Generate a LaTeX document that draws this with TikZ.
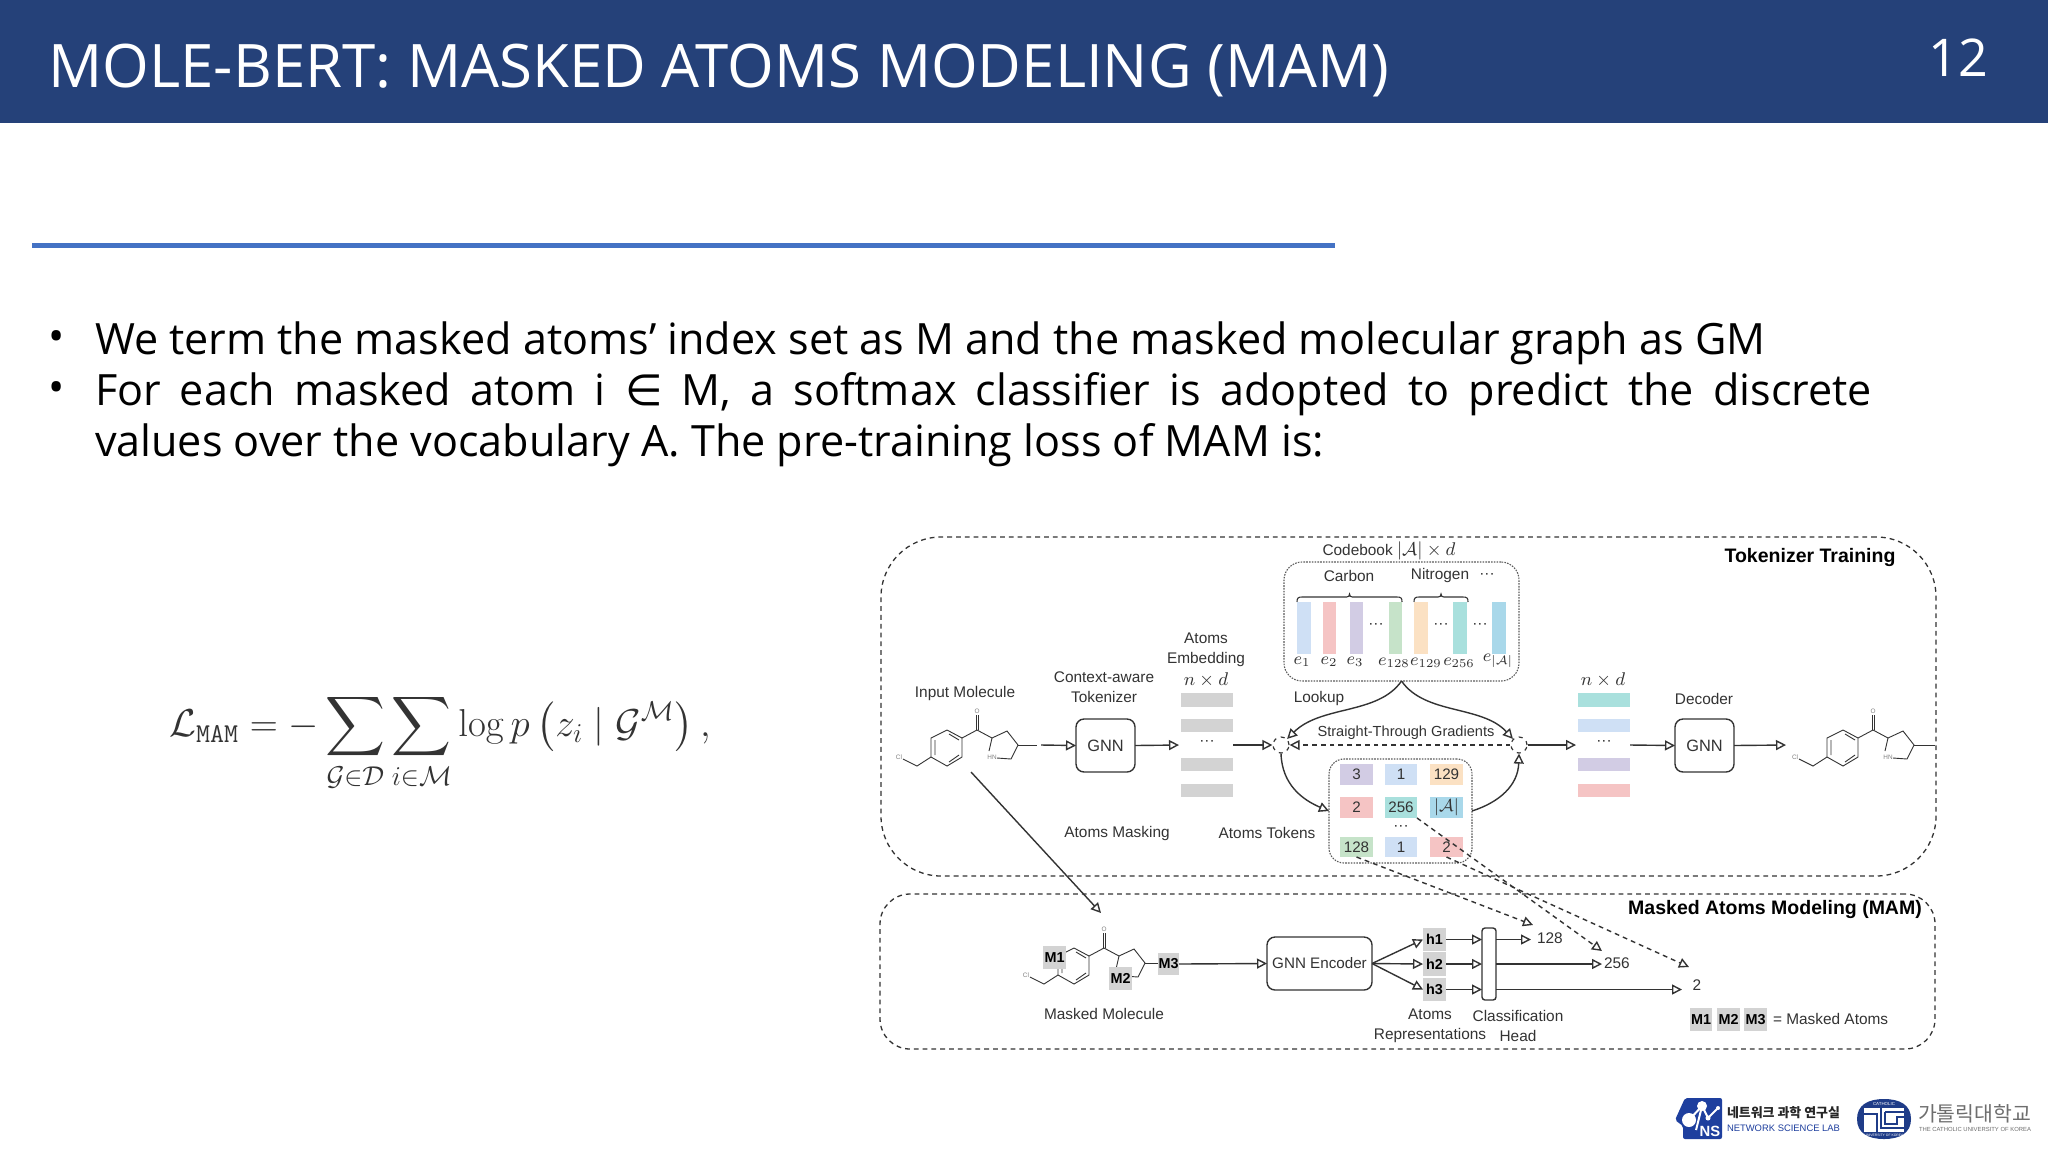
\documentclass[tikz,border=0pt]{standalone}
\usepackage{fix-cm}
\usepackage{exscale}
\usepackage{graphicx}
\usepackage[no-math]{fontspec}
\setmainfont{Liberation Sans}
\newfontfamily\slidefont{Open Sans}
\newfontfamily\symfont{DejaVu Sans}
\newfontfamily\cjk{Noto Sans CJK KR}
\usetikzlibrary{arrows.meta,calc}
\definecolor{hdr}{HTML}{254179}
\definecolor{rule}{HTML}{4472C4}
\definecolor{ink}{HTML}{333333}
\definecolor{cblue}{HTML}{CFE0F5}
\definecolor{cred}{HTML}{F5C4C4}
\definecolor{cpurple}{HTML}{D2CCE4}
\definecolor{cgreen}{HTML}{C6E3C9}
\definecolor{corange}{HTML}{FBE1C3}
\definecolor{cteal}{HTML}{A9E0DD}
\definecolor{clight}{HTML}{A9D8EA}
\definecolor{cgray}{HTML}{D3D3D3}
\definecolor{nsblue}{HTML}{1E3F9E}
\definecolor{cuk}{HTML}{1F3C88}
\definecolor{cukgray}{HTML}{6E6E6E}
\newcommand{\hdots}{···}
\tikzset{
  boxbase/.style={inner sep=0pt,outer sep=0pt,text=ink,font=\fontsize{7.6}{9}\selectfont},
  lab/.style={inner sep=0pt,outer sep=0pt,text=ink,font=\fontsize{7.7}{10}\selectfont,align=center},
  boldlab/.style={inner sep=0pt,outer sep=0pt,text=black,font=\fontsize{9.75}{11}\selectfont\bfseries},
  mlab/.style={inner sep=0pt,outer sep=0pt,text=ink,font=\fontsize{9.2}{11}\selectfont},
  elab/.style={inner sep=0pt,outer sep=0pt,text=ink,font=\fontsize{8.6}{11}\selectfont},
  small/.style={inner sep=0pt,outer sep=0pt,text=gray,font=\fontsize{3.2}{4}\selectfont},
  arr/.style={draw=ink,line width=.7pt,-{Triangle[open,fill=white,length=5pt,width=5pt]}},
  darr/.style={arr,dash pattern=on 2.4pt off 2pt},
  frame/.style={draw=ink,line width=.65pt,dash pattern=on 2.4pt off 2pt},
  dotframe/.style={draw=ink!80,line width=.55pt,dash pattern=on .8pt off .6pt},
  solid box/.style={draw=ink,line width=.7pt,rounded corners=4pt},
  bond/.style={draw=ink,line width=.45pt},
  slidetext/.style={inner sep=0pt,outer sep=0pt,text=black,font=\slidefont\fontsize{21.56}{26}\selectfont,anchor=west},
  x=.5pt,y=-.5pt}
% [options]{name}{x1}{y1}{x2}{y2}{text}
\newcommand{\bx}[7][]{\node[boxbase,minimum width={(#5-#3)*.5pt},minimum height={(#6-#4)*.5pt},#1] (#2) at ({(#3+#5)/2},{(#4+#6)/2}) {#7};}
\newcommand{\brc}[2]{\draw[bond,line width=.55pt] (#1,602) .. controls (#1,598) and ({#1+1},597) .. ({#1+5},597) -- ({(#1+#2)/2-3},597) .. controls ({(#1+#2)/2-1},597) and ({(#1+#2)/2},596) .. ({(#1+#2)/2},594) .. controls ({(#1+#2)/2},596) and ({(#1+#2)/2+1},597) .. ({(#1+#2)/2+3},597) -- ({#2-5},597) .. controls ({#2-1},597) and (#2,598) .. (#2,602);}
% molecule skeleton around ring centre
\newcommand{\molbase}[2]{\begin{scope}[shift={(#1,#2)}]
 \draw[bond] (-16,9)--(-16,-10)--(0,-18)--(15,-10)--(15,9)--(0,18)--cycle;
 \draw[bond] (-44,11)--(-30,18)--(-16,9);
 \draw[bond] (-12,7)--(-12,-8) (2,-14)--(12,-8) (12,7)--(2,14);
 \draw[bond] (15,-10)--(30,-18)--(45,-10)--(60,-17)--(71,-3)--(64,11)--(50,10) (42,3)--(45,-10);
 \draw[bond] (29,-18)--(29,-33) (31.5,-18)--(31.5,-33);
 \node[small] at (30,-37) {O};
 \node[small] at (-48,9) {Cl};
 \end{scope}}
\begin{document}
\begin{tikzpicture}
\useasboundingbox (0,0) rectangle (2048,1152);
\fill[white] (0,0) rectangle (2048,1152);
% header
\fill[hdr] (0,0) rectangle (2048,123);
\node[inner sep=0pt,anchor=west,text=white,font=\slidefont\fontsize{30}{36}\selectfont] (title) at (48,70) {MOLE-BERT: MASKED ATOMS MODELING (MAM)};
\node[inner sep=0pt,text=white,font=\slidefont\fontsize{26}{30}\selectfont] (pageno) at (1958,58) {12};
\fill[rule] (32,243) rectangle (1335,248);
% bullets
\node[slidetext] (b1) at (48,341) {•};
\node[slidetext] (t1) at (95,343) {We term the masked atoms’ index set as M and the masked molecular graph as GM};
\node[slidetext] (b2) at (48,392) {•};
\node[slidetext] (t2) at (95,394) {\makebox[888.5pt][s]{For each masked atom i {\symfont ∈} M, a softmax classifier is adopted to predict the discrete}};
\node[slidetext] (t3) at (95,445) {values over the vocabulary A. The pre-training loss of MAM is:};
% equation
\node[inner sep=0pt,text=ink,font=\fontsize{19.45}{23}\selectfont] (eq) at (440,743) {$\displaystyle \mathcal{L}_{\mathtt{MAM}}=-\sum_{\mathcal{G}\in\mathcal{D}}\sum_{i\in\mathcal{M}}\log p\left(z_i\mid\mathcal{G}^{\mathcal{M}}\right),$};
% frames
\bx[frame,rounded corners=30pt]{tokframe}{881}{537}{1936}{876}{}
\bx[frame,rounded corners=15pt]{mamframe}{880}{894}{1935}{1049}{}
\node[boldlab] (tt) at (1810,557) {Tokenizer Training};
\node[boldlab] (mt) at (1775,909) {Masked Atoms Modeling (MAM)};
% codebook
\node[lab] (cblab) at (1389,551) {Codebook {\fontsize{9.2}{10}\selectfont$|\mathcal{A}|\times d$}};
\bx[dotframe,rounded corners=9pt]{cb}{1284}{562}{1519}{681}{}
\node[lab] (carbon) at (1349,576) {Carbon};
\node[lab] (nitro) at (1440,576) {Nitrogen};
\node[lab] (cbdots0) at (1487,576) {\hdots};
\brc{1297}{1402}
\brc{1414}{1468}
\bx[fill=cblue]{e1}{1297}{602}{1311}{654}{}
\bx[fill=cred]{e2}{1323}{602}{1336}{654}{}
\bx[fill=cpurple]{e3}{1350}{602}{1363}{654}{}
\bx[fill=cgreen]{e128}{1389}{602}{1402}{654}{}
\bx[fill=corange]{e129}{1414}{602}{1428}{654}{}
\bx[fill=cteal]{e256}{1453}{602}{1467}{654}{}
\bx[fill=clight]{eA}{1492}{602}{1506}{654}{}
\node[lab] (cbd1) at (1376,626) {\hdots};
\node[lab] (cbd2) at (1441,626) {\hdots};
\node[lab] (cbd3) at (1480,626) {\hdots};
\node[elab] (le1) at (1302,662) {$e_{1}$};
\node[elab] (le2) at (1329,662) {$e_{2}$};
\node[elab] (le3) at (1355,662) {$e_{3}$};
\node[elab] (le128) at (1394,663) {$e_{128}$};
\node[elab] (le129) at (1426,663) {$e_{129}$};
\node[elab] (le256) at (1459,663) {$e_{256}$};
\node[elab] (leA) at (1498,661) {$e_{|\mathcal{A}|}$};
% input molecule
\node[lab] (inlab) at (965,694) {Input Molecule};
\molbase{947}{748}
\node[small] (hn1) at (992,757) {HN};
\coordinate (moltail) at (1018,745);
\coordinate (molgap) at (1037,745);
\coordinate (molstart) at (1041,745);
\draw[bond] (moltail) -- (molgap);
\node[lab] (ctx) at (1104,687) {Context-aware\\Tokenizer};
\bx[solid box]{gnn1}{1076}{719}{1135}{772}{\fontsize{8.2}{10}\selectfont GNN}
\draw[arr] (molstart) -- (gnn1.west);
% embeddings
\node[lab] (emb) at (1206,649.5) {Atoms\\Embedding};
\node[mlab] (nd1) at (1206,680) {$n\times d$};
\bx[fill=cgray]{g1}{1181}{693}{1233}{707}{}
\bx[fill=cgray]{g2}{1181}{719}{1233}{732}{}
\node[lab] (gd) at (1207,743) {\hdots};
\bx[fill=cgray]{g3}{1181}{758}{1233}{771}{}
\bx[fill=cgray]{g4}{1181}{784}{1233}{797}{}
\coordinate (gin) at (1179,745);
\coordinate (gout) at (1233,745);
\draw[arr] (gnn1.east) -- (gin);
% labels
\node[lab] (mask) at (1117,833) {Atoms Masking};
\node[lab] (tokl) at (1267,833) {Atoms Tokens};
\node[lab] (lookup) at (1319,699) {Lookup};
\node[lab,font=\fontsize{7.3}{9}\selectfont] (stg) at (1406,733) {Straight-Through Gradients};
% junctions
\node[circle,draw=ink,line width=.6pt,dash pattern=on 2pt off 2.4pt,minimum size=8pt,inner sep=0pt] (jl) at (1281,745) {};
\node[circle,draw=ink,line width=.6pt,dash pattern=on 2pt off 2.4pt,minimum size=8pt,inner sep=0pt] (jr) at (1519,745) {};
\draw[arr] (gout) -- (jl.west);
% tokens box
\bx[dotframe,rounded corners=7.5pt]{tok}{1329}{759}{1472}{863}{}
\bx[fill=cpurple]{t11}{1340}{764}{1373}{785}{3}
\bx[fill=cblue]{t12}{1385}{764}{1417}{785}{1}
\bx[fill=corange]{t13}{1430}{764}{1463}{785}{129}
\bx[fill=cred]{t21}{1340}{797}{1373}{818}{2}
\bx[fill=cteal]{t22}{1385}{797}{1417}{818}{256}
\bx[fill=clight]{t23}{1430}{797}{1463}{818}{{\fontsize{8.6}{10}\selectfont$|\mathcal{A}|$}}
\node[lab] (tokd) at (1401,828) {\hdots};
\bx[fill=cgreen]{t31}{1340}{837}{1373}{857}{128}
\bx[fill=cblue]{t32}{1385}{837}{1417}{857}{1}
\bx[fill=cred]{t33}{1430}{837}{1463}{857}{2}
% lookup curves
\draw[arr] (cb.south) .. controls (1378,715) and (1321,705) .. (jl.north east);
\draw[arr] (cb.south) .. controls (1425,715) and (1482,705) .. (jr.north west);
\draw[darr] (jr.west) -- (jl.east);
\draw[arr] (jl.south) .. controls (1282,785) and (1303,800) .. (tok.west);
\draw[arr] (tok.east) .. controls (1500,802) and (1518,785) .. (jr.south);
% output embeddings
\node[mlab] (nd2) at (1603,680) {$n\times d$};
\bx[fill=cteal]{o1}{1578}{693}{1630}{707}{}
\bx[fill=cblue]{o2}{1578}{719}{1630}{732}{}
\node[lab] (od) at (1604,743) {\hdots};
\bx[fill=cpurple]{o3}{1578}{758}{1630}{771}{}
\bx[fill=cred]{o4}{1578}{784}{1630}{797}{}
\coordinate (oin) at (1576,745);
\coordinate (oout) at (1630,745);
\draw[arr] (jr.east) -- (oin);
\node[lab] (dec) at (1704,699) {Decoder};
\bx[solid box]{gnn2}{1675}{719}{1734}{772}{\fontsize{8.2}{10}\selectfont GNN}
\draw[arr] (oout) -- (gnn2.west);
\coordinate (gnn2out) at (1786,745);
\draw[arr] (gnn2.east) -- (gnn2out);
\molbase{1843}{748}
\node[small] (hn2) at (1888,757) {HN};
\coordinate (m2t) at (1914,745);
\coordinate (m2e) at (1935,745);
\draw[bond] (m2t) -- (m2e);
% MAM row
\molbase{1074}{966}
\bx[fill=cgray,font=\fontsize{7.2}{9}\selectfont\bfseries,text=black]{m1}{1043}{946}{1066}{969}{M1}
\bx[fill=cgray,font=\fontsize{7.2}{9}\selectfont\bfseries,text=black]{m2}{1109}{967}{1132}{990}{M2}
\bx[fill=cgray,font=\fontsize{7.2}{9}\selectfont\bfseries,text=black]{m3}{1158}{953}{1179}{975}{M3}
\coordinate (molm3) at (1145,963);
\draw[bond] (molm3) -- (molm3 -| m3.west);
\coordinate (masktop) at (971,772);
\coordinate (maskend) at (1101,913);
\draw[arr] (masktop) -- (maskend);
\node[lab] (mm) at (1104,1014) {Masked Molecule};
\bx[solid box]{enc}{1267}{937}{1372}{990}{GNN Encoder}
\draw[arr] (m3.east) -- (enc.west);
\bx[fill=cgray,font=\fontsize{7.2}{9}\selectfont\bfseries,text=black]{h1}{1423}{928}{1446}{951}{h1}
\bx[fill=cgray,font=\fontsize{7.2}{9}\selectfont\bfseries,text=black]{h2}{1423}{952}{1446}{976}{h2}
\bx[fill=cgray,font=\fontsize{7.2}{9}\selectfont\bfseries,text=black]{h3}{1423}{978}{1446}{1001}{h3}
\draw[arr] (enc.east) -- (h1.west);
\draw[arr] (enc.east) -- (h2.west);
\draw[arr] (enc.east) -- (h3.west);
\bx[draw=ink,line width=.7pt,rounded corners=1.5pt]{head}{1482}{928}{1496}{1000}{}
\draw[arr] (h1.east) -- (h1.east -| head.west);
\draw[arr] (h2.east) -- (h2.east -| head.west);
\draw[arr] (h3.east) -- (h3.east -| head.west);
\node[lab,anchor=west] (v128) at (1537,938) {128};
\node[lab,anchor=west] (v256) at (1604,963) {256};
\node[lab] (v2) at (1697,985) {2};
\coordinate (o128) at (1531,939.5);
\coordinate (o256) at (1602,964);
\coordinate (o2) at (1682,989.5);
\draw[arr] (h1.east -| head.east) -- (o128);
\draw[arr] (h2.east -| head.east) -- (o256);
\draw[arr] (h3.east -| head.east) -- (o2);
\coordinate (d128) at (1533,925);
\coordinate (d256) at (1602,951);
\coordinate (d2) at (1689,967);
\draw[darr] (t31.south) -- (d128);
\draw[darr] (t22.south east) -- (d256);
\draw[darr] (t33.south) -- (d2);
\node[lab] (ar) at (1430,1025.5) {Atoms\\Representations};
\node[lab] (ch) at (1518,1025.5) {Classification\\Head};
\bx[fill=cgray,font=\fontsize{7.2}{9}\selectfont\bfseries,text=black]{lm1}{1690}{1008}{1712}{1031}{M1}
\bx[fill=cgray,font=\fontsize{7.2}{9}\selectfont\bfseries,text=black]{lm2}{1717}{1008}{1740}{1031}{M2}
\bx[fill=cgray,font=\fontsize{7.2}{9}\selectfont\bfseries,text=black]{lm3}{1744}{1008}{1767}{1031}{M3}
\node[lab,anchor=west] (leg) at (1773,1019) {= Masked Atoms};
% NS logo
\fill[nsblue,rounded corners=1pt] (1675,1120)--(1685,1098)--(1722,1098)--(1722,1139)--(1683,1139)--(1683,1126)--cycle;
\draw[white,line width=1pt] (1689,1120)--(1702,1106)--(1708,1118)--(1718,1108) (1702,1106)--(1696,1130);
\fill[white] (1689,1120) circle[radius=7];
\fill[white] (1702,1106) circle[radius=5];
\fill[white] (1708,1118) circle[radius=2.5];
\fill[white] (1718,1108) circle[radius=2];
\node[inner sep=0pt,text=white,font=\fontsize{7.4}{9}\selectfont\bfseries] (ns) at (1710,1131) {NS};
\node[inner sep=0pt,text=black!85] (nskr) at (1783.5,1113) {\resizebox{56.5pt}{!}{\cjk\bfseries 네트워크 과학 연구실}};
\node[inner sep=0pt,text=nsblue] (nsen) at (1783.5,1128) {\resizebox{56.5pt}{!}{NETWORK SCIENCE LAB}};
% CUK logo
\fill[cuk] (1857,1119) .. controls (1857,1105) and (1868,1099) .. (1884,1099) .. controls (1900,1099) and (1911,1105) .. (1911,1119) .. controls (1911,1133) and (1900,1139) .. (1884,1139) .. controls (1868,1139) and (1857,1133) .. (1857,1119) -- cycle;
\fill[white] (1864,1108) rectangle (1904,1132);
\draw[cuk,line width=.7pt] (1864,1114)--(1877,1114)--(1877,1132) (1881,1108)--(1881,1128)--(1904,1128) (1885,1112)--(1904,1112) (1885,1112)--(1885,1124)--(1897,1124)--(1897,1117)--(1904,1117);
\node[inner sep=0pt,text=white,font=\fontsize{2.2}{3}\selectfont] (cuktop) at (1884,1104) {CATHOLIC};
\node[inner sep=0pt,text=white,font=\fontsize{1.7}{3}\selectfont] (cukbot) at (1884,1135.5) {UNIVERSITY OF KOREA};
\node[inner sep=0pt,text=cukgray] (cukkr) at (1974.5,1114) {\resizebox{56.5pt}{!}{\cjk 가톨릭대학교}};
\node[inner sep=0pt,text=cukgray] (cuken) at (1975,1129) {\resizebox{56pt}{!}{THE CATHOLIC UNIVERSITY OF KOREA}};
\end{tikzpicture}
\end{document}
